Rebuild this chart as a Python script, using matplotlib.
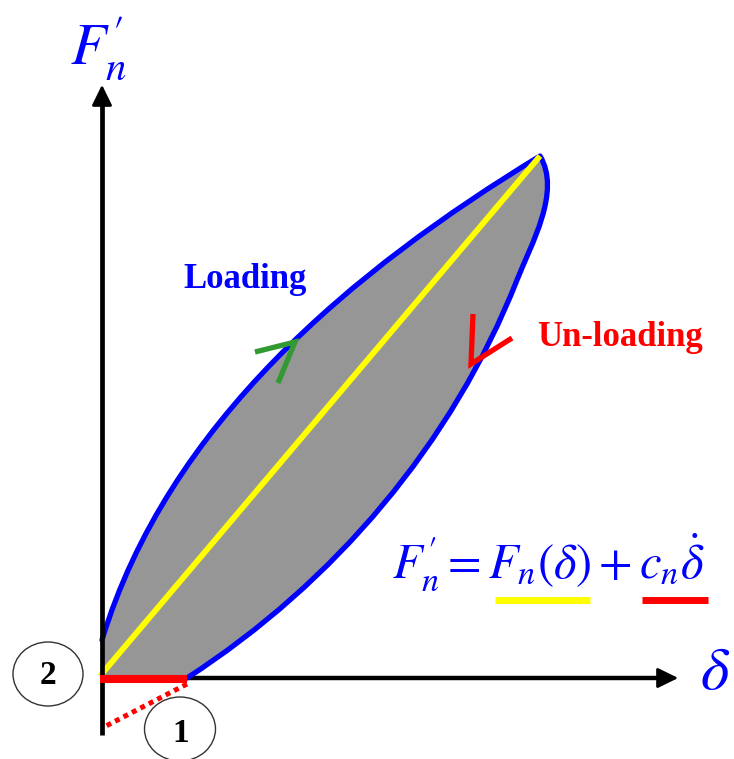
import matplotlib
matplotlib.use("Agg")
import matplotlib.pyplot as plt
from matplotlib.path import Path
from matplotlib.patches import PathPatch, Ellipse
import numpy as np

# picture is drawn in pixel coordinates (y down)
W, H = 734, 759

# origin of the axes
x0, y0 = 102, 678

# loading branch (from the force axis up to the tip)
loading_x = [102, 115, 133, 147, 177, 223, 290, 357, 423, 490, 540]
loading_y = [640, 603, 560, 529, 479, 422, 344, 283, 236, 186, 156]

# unloading branch (from the tip down to the displacement axis)
unloading_x = [540, 546, 548, 545, 537, 527, 517, 472, 463, 447, 430, 410,
               390, 380, 347, 313, 280, 247, 213, 187]
unloading_y = [156, 161, 172, 197, 230, 257, 280, 367, 390, 423, 450, 473,
               493, 502, 543, 580, 610, 637, 660, 678]
split = 6  # the rounded tip ends here

# arrows on the branches: arm 1, tip, arm 2
green_arrow = [(255, 352), (295, 342), (278, 383)]
red_arrow = [(473, 314), (471, 364), (512, 338)]

formula = r"$F_n^{\prime} = F_n(\delta) + c_n\dot{\delta}$"

plt.rcParams['mathtext.fontset'] = 'stix'
plt.rcParams['font.family'] = ['Liberation Serif', 'DejaVu Serif']


def bezier_fit(xs, ys, end_dir=None):
    # least squares cubic bezier with fixed ends, gives a smooth branch
    pts = np.column_stack([xs, ys]).astype(float)
    d = np.r_[0, np.cumsum(np.hypot(*np.diff(pts, axis=0).T))]
    t = d / d[-1]
    p0, p3 = pts[0], pts[-1]
    b0 = (1 - t) ** 3
    b1 = 3 * t * (1 - t) ** 2
    b2 = 3 * t ** 2 * (1 - t)
    b3 = t ** 3
    rhs = pts - np.outer(b0, p0) - np.outer(b3, p3)
    if end_dir is None:
        A = np.column_stack([b1, b2])
        sol, *_ = np.linalg.lstsq(A, rhs, rcond=None)
        return [p0, sol[0], sol[1], p3]
    # last control point kept on the given tangent at the end
    u = np.asarray(end_dir, float)
    u = u / np.hypot(*u)
    rhs = rhs - np.outer(b2, p3)
    z = np.zeros_like(t)
    A = np.vstack([np.column_stack([b1, z, -b2 * u[0]]),
                   np.column_stack([z, b1, -b2 * u[1]])])
    sol, *_ = np.linalg.lstsq(A, np.r_[rhs[:, 0], rhs[:, 1]], rcond=None)
    return [p0, sol[:2], p3 - sol[2] * u, p3]


def main():
    fig = plt.figure(figsize=(W / 100, H / 100), dpi=100)
    ax = fig.add_axes([0, 0, 1, 1])
    ax.set_xlim(0, W)
    ax.set_ylim(H, 0)
    ax.axis('off')

    lv = [tuple(p) for p in bezier_fit(loading_x, loading_y)]
    lower = bezier_fit(unloading_x[split:], unloading_y[split:])
    tip = bezier_fit(unloading_x[:split + 1], unloading_y[:split + 1],
                     end_dir=lower[1] - lower[0])
    uv = [tuple(p) for p in tip] + [tuple(p) for p in lower[1:]]
    cl = [Path.MOVETO] + [Path.CURVE4] * 3
    cu = [Path.MOVETO] + [Path.CURVE4] * 6

    # grey area of the loop
    verts = [(x0, y0)] + lv + uv[1:] + [(x0, y0)]
    codes = [Path.MOVETO, Path.LINETO] + cl[1:] + cu[1:] + [Path.LINETO]
    ax.add_patch(PathPatch(Path(verts, codes), facecolor='#969696',
                           edgecolor='none', zorder=1))

    # blue branches
    ax.add_patch(PathPatch(Path(lv + uv[1:], cl + cu[1:]), facecolor='none',
                           edgecolor='#0000FF', lw=3.8, zorder=3,
                           capstyle='round', joinstyle='round'))

    # yellow elastic line
    ax.plot([x0 - 2, loading_x[-1]], [y0 - 2, loading_y[-1]], color='#FFFF00',
            lw=4.2, zorder=4, solid_capstyle='butt')

    # axes with arrows
    ax.plot([x0, x0], [735, 100], color='k', lw=3.4, zorder=5,
            solid_capstyle='butt')
    ax.annotate('', xy=(x0, 82), xytext=(x0, 110),
                arrowprops=dict(arrowstyle='-|>,head_length=0.45,head_width=0.22',
                                color='k', lw=2, mutation_scale=28), zorder=5)
    ax.plot([x0, 666], [y0, y0], color='k', lw=3.2, zorder=2,
            solid_capstyle='butt')
    ax.annotate('', xy=(681, y0), xytext=(650, y0),
                arrowprops=dict(arrowstyle='-|>,head_length=0.45,head_width=0.22',
                                color='k', lw=2, mutation_scale=28), zorder=5)

    # red damping part
    ax.plot([x0 - 2, unloading_x[-1]], [y0 + 1, y0 + 1], color='#FF0000',
            lw=5.8, zorder=6, solid_capstyle='butt')
    ax.plot([unloading_x[-1], 104], [684, 727], color='#FF0000', lw=3.6,
            dashes=(1.0, 0.9), zorder=6)

    # direction chevrons
    gx, gy = zip(*green_arrow)
    ax.plot(gx, gy, color='#339933', lw=3.8, zorder=7, solid_joinstyle='miter',
            solid_capstyle='butt')
    rx, ry = zip(*red_arrow)
    ax.plot(rx, ry, color='#FF0000', lw=3.8, zorder=7, solid_joinstyle='miter',
            solid_capstyle='butt')

    # labels
    ax.text(245, 280, 'Loading', color='#0000FF', fontsize=25,
            fontweight='bold', ha='center', va='center')
    ax.text(620, 337, 'Un-loading', color='#FF0000', fontsize=25,
            fontweight='bold', ha='center', va='center')
    ax.text(392, 578, formula, color='#0000FF', fontsize=35, ha='left',
            va='baseline')
    ax.plot([495, 590], [600, 600], color='#FFFF00', lw=5, solid_capstyle='butt')
    ax.plot([642, 708], [600, 600], color='#FF0000', lw=5, solid_capstyle='butt')

    ax.text(99, 48, r"$F_n^{\prime}$", color='#0000FF', fontsize=42,
            ha='center', va='center')
    ax.text(715, 674, r"$\delta$", color='#0000FF', fontsize=44,
            ha='center', va='center')

    # numbered circles
    ax.add_patch(Ellipse((48, 674), 70, 64, facecolor='white',
                         edgecolor='#333333', lw=1.0, zorder=8))
    ax.text(48, 676, '2', fontsize=24, fontweight='bold', ha='center',
            va='center', zorder=9)
    ax.add_patch(Ellipse((180, 729), 71, 64, facecolor='white',
                         edgecolor='#333333', lw=1.0, zorder=8))
    ax.text(181, 734, '1', fontsize=24, fontweight='bold', ha='center',
            va='center', zorder=9)

    fig.savefig('out.png', dpi=100)
    plt.close()


if __name__ == "__main__":
    main()
